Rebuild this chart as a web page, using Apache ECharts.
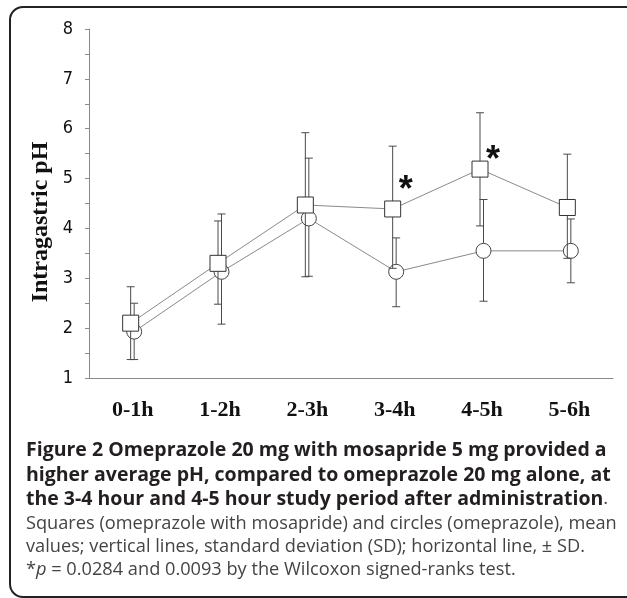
<!DOCTYPE html>
<html>
<head>
<meta charset="utf-8">
<script src="https://cdn.jsdelivr.net/npm/echarts@6/dist/echarts.min.js"></script>
<style>html,body{margin:0;padding:0;background:#fff;}#c{width:627px;height:598px;}</style>
</head>
<body>
<div id="c"></div>
<script>
const categories = ['0-1h', '1-2h', '2-3h', '3-4h', '4-5h', '5-6h'];
const yTicks = [1, 2, 3, 4, 5, 6, 7, 8];
// Squares: omeprazole with mosapride
const squareMean  = [2.10, 3.30, 4.47, 4.39, 5.19, 4.42];
const squareUpper = [2.83, 4.15, 5.92, 5.65, 6.32, 5.49];
const squareLower = [1.37, 2.48, 3.03, 3.20, 4.05, 3.40];
// Circles: omeprazole alone
const circleMean  = [1.93, 3.13, 4.20, 3.13, 3.55, 3.55];
const circleUpper = [2.50, 4.29, 5.41, 3.81, 4.58, 4.19];
const circleLower = [1.37, 2.08, 3.04, 2.43, 2.54, 2.91];
// significance markers (category, value position)
const sigCategories = ['3-4h', '4-5h'];
const sigValues = [4.87, 5.47];

const chart = echarts.init(document.getElementById('c'), null, {renderer: 'canvas'});

function makeRender(mean, shape, dx) {
  return function (params, api) {
    const i = params.dataIndex;
    const p = api.coord([api.value(0), api.value(1)]);
    const up = api.coord([api.value(0), api.value(2)]);
    const lo = api.coord([api.value(0), api.value(3)]);
    const x = p[0] + dx;
    const children = [];
    if (i < mean.length - 1) {
      const n = api.coord([i + 1, mean[i + 1]]);
      children.push({type: 'line', shape: {x1: x, y1: p[1], x2: n[0] + dx, y2: n[1]},
        style: {stroke: '#8a8a8a', lineWidth: 1}});
    }
    const barStyle = {stroke: '#4a4a4a', lineWidth: 1};
    children.push({type: 'line', shape: {x1: x, y1: up[1], x2: x, y2: lo[1]}, style: barStyle});
    children.push({type: 'line', shape: {x1: x - 4, y1: up[1], x2: x + 4, y2: up[1]}, style: barStyle});
    children.push({type: 'line', shape: {x1: x - 4, y1: lo[1], x2: x + 4, y2: lo[1]}, style: barStyle});
    if (shape === 'square') {
      children.push({type: 'rect', shape: {x: x - 8, y: p[1] - 8, width: 16, height: 16},
        style: {fill: '#fff', stroke: '#333', lineWidth: 1}});
    } else {
      children.push({type: 'circle', shape: {cx: x, cy: p[1], r: 7.5},
        style: {fill: '#fff', stroke: '#444', lineWidth: 1}});
    }
    return {type: 'group', children: children};
  };
}

const sqData = categories.map((c, i) => [i, squareMean[i], squareUpper[i], squareLower[i]]);
const ciData = categories.map((c, i) => [i, circleMean[i], circleUpper[i], circleLower[i]]);
const sigData = sigCategories.map((c, k) => [categories.indexOf(c), sigValues[k]]);

const boldCap = {fontFamily: 'Open Sans', fontWeight: 'bold', fontSize: 19.5, fill: '#231f20'};
const regCap = {fontFamily: 'Open Sans', fontWeight: 'normal', fontSize: 18.2, fill: '#444'};
const capLines = [
  {y: 450, text: '{b|Figure 2 Omeprazole 20 mg with mosapride 5 mg provided a}'},
  {y: 475, text: '{b|higher average pH, compared to omeprazole 20 mg alone, at}'},
  {y: 499, text: '{b|the 3-4 hour and 4-5 hour study period after administration}{r|.}'},
  {y: 524, text: '{r|Squares (omeprazole with mosapride) and circles (omeprazole), mean}'},
  {y: 547, text: '{r|values; vertical lines, standard deviation (SD); horizontal line, ± SD.}'},
  {y: 570, text: '{r|*}{i|p}{r| = 0.0284 and 0.0093 by the Wilcoxon signed-ranks test.}'}
];

const option = {
  animation: false,
  backgroundColor: '#fff',
  grid: {left: 89, right: 14, top: 29, bottom: 220},
  xAxis: {
    type: 'category', data: categories, boundaryGap: true,
    axisLine: {lineStyle: {color: '#8a8a8a', width: 1}},
    axisTick: {alignWithLabel: true, length: 3, lineStyle: {color: '#8a8a8a'}},
    axisLabel: {fontFamily: 'Liberation Serif', fontWeight: 'bold', fontSize: 22, color: '#111', margin: 21},
    splitLine: {show: false}
  },
  yAxis: {
    type: 'value', min: yTicks[0], max: yTicks[yTicks.length - 1], interval: 1,
    axisLine: {show: true, lineStyle: {color: '#8a8a8a', width: 1}},
    axisTick: {show: true, length: 4, lineStyle: {color: '#8a8a8a'}},
    minorTick: {show: true, splitNumber: 2, length: 4, lineStyle: {color: '#8a8a8a'}},
    axisLabel: {fontFamily: 'Liberation Sans Narrow, DejaVu Sans Condensed, sans-serif', fontSize: 18, color: '#111', margin: 16},
    splitLine: {show: false}
  },
  series: [
    {type: 'custom', name: 'Omeprazole', data: ciData, renderItem: makeRender(circleMean, 'circle', 1.5), clip: false, z: 2},
    {type: 'custom', name: 'Omeprazole + mosapride', data: sqData, renderItem: makeRender(squareMean, 'square', -2), clip: false, z: 3},
    {type: 'custom', name: 'significance', data: sigData, clip: false, z: 4,
      renderItem: function (params, api) {
        const p = api.coord([api.value(0), api.value(1)]);
        return {type: 'text', x: p[0] + 11, y: p[1] + 6,
          style: {text: '*', fontFamily: 'Liberation Sans', fontWeight: 'bold', fontSize: 36, fill: '#111', align: 'center', verticalAlign: 'middle'}};
      }}
  ],
  graphic: [
    {type: 'rect', shape: {x: 10, y: 7, width: 640, height: 590, r: 13}, style: {fill: 'none', stroke: '#222', lineWidth: 2}, z: 0},
    {type: 'text', x: 41, y: 222, rotation: Math.PI / 2,
      style: {text: 'Intragastric pH', fontFamily: 'Liberation Serif', fontWeight: 'bold', fontSize: 24, fill: '#111', align: 'center', verticalAlign: 'middle'}}
  ].concat(capLines.map(l => ({
    type: 'text', x: 26, y: l.y,
    style: {text: l.text, verticalAlign: 'middle', align: 'left',
      rich: {b: boldCap, r: regCap, i: Object.assign({}, regCap, {fontStyle: 'italic'})}}
  })))
};
chart.setOption(option);
</script>
</body>
</html>
